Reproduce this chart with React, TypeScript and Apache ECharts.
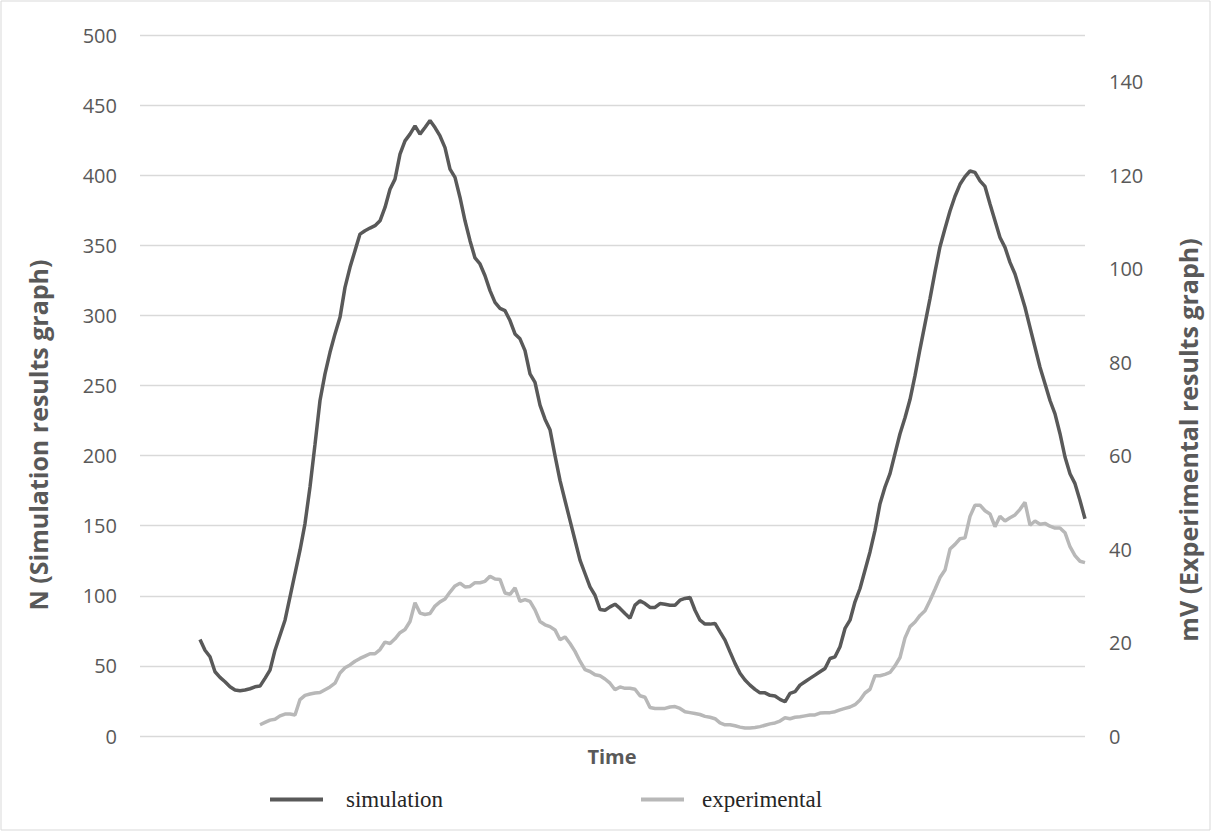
import React, { useEffect, useRef } from "react";
import * as echarts from "echarts";

// time steps (hidden category axis)
const timeSteps: string[] = Array.from({ length: 190 }, (_, i) => String(i));

// N (simulation) starting at step 12
const simulationValues: number[] = [
  68.9, 61.2, 56.5, 45.8, 41.8, 38.7, 35.1, 32.8, 32.3, 32.8,
  33.7, 35.1, 35.6, 41.1, 47.0, 61.2, 71.9, 82.6, 99.2, 115.9,
  132.5, 151.5, 177.6, 208, 239.3, 258.3, 273.7, 286.8, 298.6, 320,
  334.3, 346.2, 358, 360.4, 362.3, 364, 367.5, 377, 390, 397.2,
  415, 424.5, 429.3, 435.2, 429.3, 434, 439, 434, 428, 419.7,
  404.3, 398.4, 384.1, 367.5, 353.3, 341, 336.7, 328.3, 317.7, 309.3,
  305, 303.4, 296.3, 286.8, 283.3, 274.9, 258.3, 252.3, 236, 226,
  218.5, 200, 182.3, 168, 153.8, 139.6, 125.4, 115.9, 106.4, 100.4,
  90.2, 89.7, 92.1, 94, 91, 87.4, 84, 93.3, 96.4, 94.5,
  91.7, 91.7, 94.5, 94, 93.3, 93.3, 96.9, 98.1, 98.8, 89.7,
  82.6, 79.8, 79.8, 80.3, 74.3, 68.4, 60, 51.8, 44.7, 39.9,
  36.3, 33.3, 30.8, 30.8, 29, 28.5, 26.1, 24.4, 30.4, 31.6,
  36.3, 38.7, 41.1, 43.4, 45.8, 48.2, 55.3, 56.5, 63.6, 76.7,
  82.6, 95.7, 105.2, 118.2, 131.3, 146.7, 165.7, 177.6, 187.1, 201.4,
  215.6, 227, 240, 257, 276, 294, 312, 331, 349, 362,
  374.5, 385, 393.5, 399, 403, 402, 396, 392, 379.4, 367.5,
  355.6, 348.5, 337.8, 329.5, 317.7, 305.8, 291.5, 277.3, 263, 251.2,
  239.3, 229.8, 215.6, 199, 187.1, 180, 168, 155,
];

// mV (experimental) starting at step 24
const experimentalValues: number[] = [
  2.4, 2.9, 3.4, 3.6, 4.3, 4.7, 4.7, 4.5, 7.8, 8.7,
  9.0, 9.2, 9.3, 9.9, 10.5, 11.3, 13.5, 14.6, 15.2, 16.0,
  16.6, 17.1, 17.6, 17.6, 18.5, 20.1, 19.8, 20.8, 22.1, 22.8,
  24.5, 28.5, 26.3, 26.0, 26.2, 27.8, 28.7, 29.3, 30.8, 32.1,
  32.7, 31.9, 32.0, 32.8, 32.8, 33.1, 34.2, 33.6, 33.5, 30.6,
  30.3, 31.7, 28.8, 29.2, 28.8, 27.0, 24.5, 23.8, 23.4, 22.7,
  20.6, 21.2, 19.8, 18.1, 16.0, 14.2, 13.8, 13.1, 12.9, 12.2,
  11.3, 9.9, 10.5, 10.2, 10.2, 10.0, 8.6, 8.3, 6.1, 5.9,
  5.9, 5.9, 6.2, 6.3, 5.9, 5.2, 5.0, 4.8, 4.6, 4.2,
  4.0, 3.7, 2.8, 2.4, 2.4, 2.2, 1.9, 1.7, 1.7, 1.8,
  2.0, 2.3, 2.6, 2.8, 3.2, 3.9, 3.7, 4.0, 4.1, 4.3,
  4.5, 4.5, 4.9, 5.0, 5.0, 5.2, 5.6, 5.9, 6.2, 6.7,
  7.7, 9.2, 10.0, 12.9, 12.9, 13.2, 13.6, 15.0, 16.8, 21.0,
  23.4, 24.4, 25.8, 26.8, 29.0, 31.4, 33.9, 35.5, 40.0, 41.0,
  42.2, 42.4, 47.0, 49.4, 49.4, 48.2, 47.5, 44.8, 47.0, 46.0,
  46.7, 47.3, 48.5, 50.0, 45.1, 46.0, 45.3, 45.5, 44.9, 44.5,
  44.5, 43.5, 40.5, 38.6, 37.4, 37.1,
];

const simulationStart = 12;
const experimentalStart = 24;

const leftTicks = { min: 0, max: 500, interval: 50 };
const rightTicks = { min: 0, max: 150, interval: 20 };

const leftTitle = "N (Simulation results graph)";
const rightTitle = "mV (Experimental results graph)";
const xTitle = "Time";
const seriesNames = ["simulation", "experimental"];

function pad(values: number[], start: number, total: number): (number | null)[] {
  const out: (number | null)[] = [];
  for (let i = 0; i < total; i++) {
    const j = i - start;
    out.push(j >= 0 && j < values.length ? values[j] : null);
  }
  return out;
}

export default function App() {
  const ref = useRef<HTMLDivElement>(null);
  useEffect(() => {
    if (!ref.current) return;
    const chart = echarts.init(ref.current, null, { renderer: "svg" });
    const tickFont = { fontFamily: "Open Sans", fontSize: 20, color: "#595959" };
    const titleStyle = {
      fontFamily: "Open Sans",
      fontWeight: "bold",
      fontSize: 25,
      fill: "#595959",
      align: "center",
      verticalAlign: "middle",
    };
    chart.setOption({
      animation: false,
      backgroundColor: "#ffffff",
      grid: { left: 140, right: 127, top: 35, bottom: 96, containLabel: false },
      xAxis: {
        type: "category",
        data: timeSteps,
        boundaryGap: false,
        axisLine: { show: false },
        axisTick: { show: false },
        axisLabel: { show: false },
        splitLine: { show: false },
      },
      yAxis: [
        {
          type: "value",
          ...leftTicks,
          axisLine: { show: false },
          axisTick: { show: false },
          axisLabel: { ...tickFont, margin: 23 },
          splitLine: { lineStyle: { color: "#d9d9d9", width: 1.3 } },
        },
        {
          type: "value",
          ...rightTicks,
          position: "right",
          axisLine: { show: false },
          axisTick: { show: false },
          axisLabel: { ...tickFont, margin: 24, showMaxLabel: false },
          splitLine: { show: false },
        },
      ],
      legend: [
        {
          data: [seriesNames[0]],
          left: 265,
          top: 783,
          icon: "rect",
          itemWidth: 53,
          itemHeight: 4,
          textStyle: { fontFamily: "Liberation Serif", fontSize: 23, color: "#262626", padding: [0, 0, 0, 18] },
        },
        {
          data: [seriesNames[1]],
          left: 636,
          top: 783,
          icon: "rect",
          itemWidth: 43,
          itemHeight: 4,
          textStyle: { fontFamily: "Liberation Serif", fontSize: 23, color: "#262626", padding: [0, 0, 0, 13] },
        },
      ],
      graphic: [
        {
          type: "rect",
          shape: { x: 1, y: 1, width: 1209, height: 829 },
          style: { fill: "none", stroke: "#d9d9d9", lineWidth: 1 },
          silent: true,
        },
        {
          type: "text",
          x: 38,
          y: 435,
          rotation: Math.PI / 2,
          style: { ...titleStyle, text: leftTitle },
        },
        {
          type: "text",
          x: 1188,
          y: 440,
          rotation: Math.PI / 2,
          style: { ...titleStyle, text: rightTitle },
        },
        {
          type: "text",
          x: 612,
          y: 756,
          style: { ...titleStyle, fontSize: 20, text: xTitle },
        },
      ],
      series: [
        {
          name: seriesNames[0],
          type: "line",
          yAxisIndex: 0,
          data: pad(simulationValues, simulationStart, timeSteps.length),
          showSymbol: false,
          connectNulls: false,
          lineStyle: { color: "#595959", width: 3.5 },
          itemStyle: { color: "#595959" },
        },
        {
          name: seriesNames[1],
          type: "line",
          yAxisIndex: 1,
          data: pad(experimentalValues, experimentalStart, timeSteps.length),
          showSymbol: false,
          connectNulls: false,
          lineStyle: { color: "#b8b8b8", width: 3.5 },
          itemStyle: { color: "#b8b8b8" },
        },
      ],
    });
    return () => chart.dispose();
  }, []);
  return (
    <div
      ref={ref}
      style={{ position: "fixed", left: 0, top: 0, width: 1212, height: 832, background: "#fff" }}
    />
  );
}
